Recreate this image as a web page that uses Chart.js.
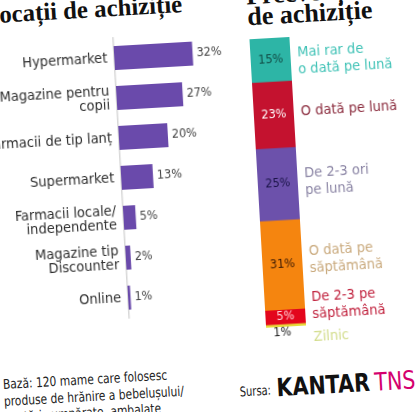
<!DOCTYPE html>
<html>
<head>
<meta charset="utf-8">
<script src="https://cdn.jsdelivr.net/npm/chart.js@4"></script>
<style>
  body { margin: 0; width: 415px; height: 412px; background: #fff; overflow: hidden; position: relative; font-family: "DejaVu Sans Condensed", sans-serif; }
  #page { position: absolute; left: 0; top: 0; width: 415px; height: 412px; transform: rotate(-3.3deg); transform-origin: 207px 206px; }
  .txt { position: absolute; white-space: nowrap; transform-origin: left top; }
  .title { font-family: "Liberation Serif", serif; font-weight: bold; color: #111; font-size: 24px; }
  #t1 { line-height: 1; }
  #note { font-size: 13.5px; line-height: 16.5px; color: #222; }
  #s1 { font-size: 13.5px; line-height: 1; color: #222; }
  #s2 { font-family: "DejaVu Sans", sans-serif; font-weight: bold; font-size: 25px; line-height: 1; color: #111; }
  #s3 { font-family: "DejaVu Sans", sans-serif; font-size: 25px; line-height: 1; color: #d4006e; }
  canvas { position: absolute; }
  #c1 { left: 0; top: 0; }
  #c2 { left: 240px; top: 0; }
</style>
</head>
<body>
<div id="page">
  <div class="txt title" id="t1"><span id="t1a">L</span><span id="t1b">ocații de achiziție</span></div>
  <div class="txt title" id="t2">Frecvența<br><span id="t2b">de achiziție</span></div>
  <canvas id="c1" width="240" height="330"></canvas>
  <canvas id="c2" width="175" height="360"></canvas>
  <div class="txt" id="note"><span id="n1">Bază: 120 mame care folosesc</span><br>produse de hrănire a bebelușului/<br>gustări cumpărate, ambalate</div>
  <div class="txt" id="s1">Sursa:</div>
  <div class="txt" id="s2">KANTAR</div>
  <div class="txt" id="s3">TNS</div>
</div>
<script>
// Locații de achiziție
const locLabels = [
    'Hypermarket',
    ['Magazine pentru', 'copii'],
    'Farmacii de tip lanț',
    'Supermarket',
    ['Farmacii locale/', 'independente'],
    ['Magazine tip', 'Discounter'],
    'Online'
];
const locValues = [32, 27, 20, 13, 5, 2, 1];

// Frecvența de achiziție (de sus în jos)
const freqLabels = [
    ['Mai rar de', 'o dată pe lună'],
    ['O dată pe lună'],
    ['De 2-3 ori', 'pe lună'],
    ['O dată pe', 'săptămână'],
    ['De 2-3 pe', 'săptămână'],
    ['Zilnic']
];
const freqValues = [15, 23, 25, 31, 5, 1];
const freqColors = ['#2db5a6', '#c4122f', '#6c51ab', '#f5850f', '#e3061c', '#e6db3c'];
const freqInner = ['#114a44', '#ffffff', '#1b1448', '#3b1a04', '#ffd0d6', '#222222'];
const freqText = ['#3fc2b6', '#8a2a3c', '#8a84a4', '#c9a97c', '#c0203c', '#d2dc8a'];
const freqDy = [3, -1, 0, -3, -9, 14];

const font = '"DejaVu Sans Condensed", sans-serif';

// Asezarea textelor: latimea tinta si linia de baza (in pagina nerotita)
const $ = id => document.getElementById(id);
function fontSize(el) { return parseFloat(getComputedStyle(el).fontSize); }

// titlu stanga: "ocații de achiziție" are ~183px, "L" iese din pagina
let fs = fontSize($('t1')) * 183 / $('t1b').offsetWidth;
$('t1').style.fontSize = fs + 'px';
$('t1').style.left = (11 - $('t1a').offsetWidth) + 'px';
$('t1').style.top = (12 - 0.8375 * fs) + 'px';

// titlu dreapta: "de achiziție" ~125px, doua randuri la 21px
fs = fontSize($('t2')) * 125 / $('t2b').offsetWidth;
$('t2').style.fontSize = fs + 'px';
$('t2').style.lineHeight = '21px';
$('t2').style.left = '258px';
$('t2').style.top = (28 - 21 - ((21 - 1.107 * fs) / 2 + 0.891 * fs)) + 'px';

// nota de la baza
fs = fontSize($('note'));
$('note').style.transform = 'scaleX(' + (164 / $('n1').offsetWidth) + ')';
$('note').style.left = '-7px';
$('note').style.top = (377 - ((16.5 - 1.164 * fs) / 2 + 0.928 * fs)) + 'px';

// sursa
$('s1').style.transform = 'scaleX(' + (31 / $('s1').offsetWidth) + ')';
$('s1').style.left = '229px';
$('s1').style.top = (398 - 0.846 * fontSize($('s1'))) + 'px';
const ks = 93 / $('s2').offsetWidth;
$('s2').style.transform = 'scaleX(' + ks + ')';
$('s2').style.left = '266px';
$('s2').style.top = (400 - 0.846 * 25) + 'px';
$('s3').style.transform = 'scaleX(' + ks + ')';
$('s3').style.left = '364px';
$('s3').style.top = (400 - 0.846 * 25) + 'px';

const valueLabels = {
    id: 'valueLabels',
    afterDatasetsDraw(chart) {
        const ctx = chart.ctx;
        ctx.save();
        ctx.font = '12.5px ' + font;
        ctx.fillStyle = '#444';
        ctx.textBaseline = 'middle';
        chart.getDatasetMeta(0).data.forEach((bar, i) => {
            ctx.fillText(locValues[i] + '%', bar.x + 4, bar.y);
        });
        ctx.restore();
    }
};

new Chart(document.getElementById('c1'), {
    type: 'bar',
    data: {
        labels: locLabels,
        datasets: [{
            data: locValues,
            backgroundColor: '#6a4aab',
            barPercentage: 0.6,
            categoryPercentage: 1
        }]
    },
    options: {
        indexAxis: 'y',
        responsive: false,
        animation: false,
        layout: { padding: { top: 33, bottom: 17, right: 19 } },
        scales: {
            x: { display: false, min: 0, max: 40 },
            y: {
                grid: { display: false, drawTicks: false },
                border: { display: true, color: '#d8d8d8', width: 1.5 },
                ticks: { color: '#2e2e2e', font: { family: font, size: 14.5, lineHeight: 1.0 }, padding: 7 },
                afterFit: s => { s.width = 123; }
            }
        },
        plugins: { legend: { display: false }, tooltip: { enabled: false } }
    },
    plugins: [valueLabels]
});

const stackLabels = {
    id: 'stackLabels',
    afterDatasetsDraw(chart) {
        const ctx = chart.ctx;
        ctx.save();
        ctx.textBaseline = 'middle';
        chart.data.datasets.forEach((ds, i) => {
            const bar = chart.getDatasetMeta(i).data[0];
            const top = Math.min(bar.y, bar.base), bottom = Math.max(bar.y, bar.base);
            const mid = (top + bottom) / 2;
            ctx.font = '12.5px ' + font;
            ctx.textAlign = 'center';
            ctx.fillStyle = freqInner[i];
            if (freqValues[i] > 2) {
                ctx.fillText(freqValues[i] + '%', bar.x, mid);
            } else {
                ctx.fillText(freqValues[i] + '%', bar.x - 4, bottom + 6);
            }
            ctx.font = '14.5px ' + font;
            ctx.textAlign = 'left';
            ctx.fillStyle = freqText[i];
            const lines = freqLabels[i];
            const lh = 17;
            const y0 = mid + freqDy[i] - (lines.length - 1) * lh / 2;
            lines.forEach((t, j) => ctx.fillText(t, bar.x + bar.width / 2 + 7, y0 + j * lh));
        });
        ctx.restore();
    }
};

new Chart(document.getElementById('c2'), {
    type: 'bar',
    data: {
        labels: [''],
        datasets: freqValues.map((v, i) => ({
            data: [v],
            backgroundColor: freqColors[i],
            barPercentage: 1,
            categoryPercentage: 1
        }))
    },
    options: {
        responsive: false,
        animation: false,
        layout: { padding: { left: 19, right: 116, top: 42, bottom: 29 } },
        scales: {
            x: { display: false, stacked: true },
            y: { display: false, stacked: true, min: 0, max: 100, reverse: true }
        },
        plugins: { legend: { display: false }, tooltip: { enabled: false } }
    },
    plugins: [stackLabels]
});
</script>
</body>
</html>
